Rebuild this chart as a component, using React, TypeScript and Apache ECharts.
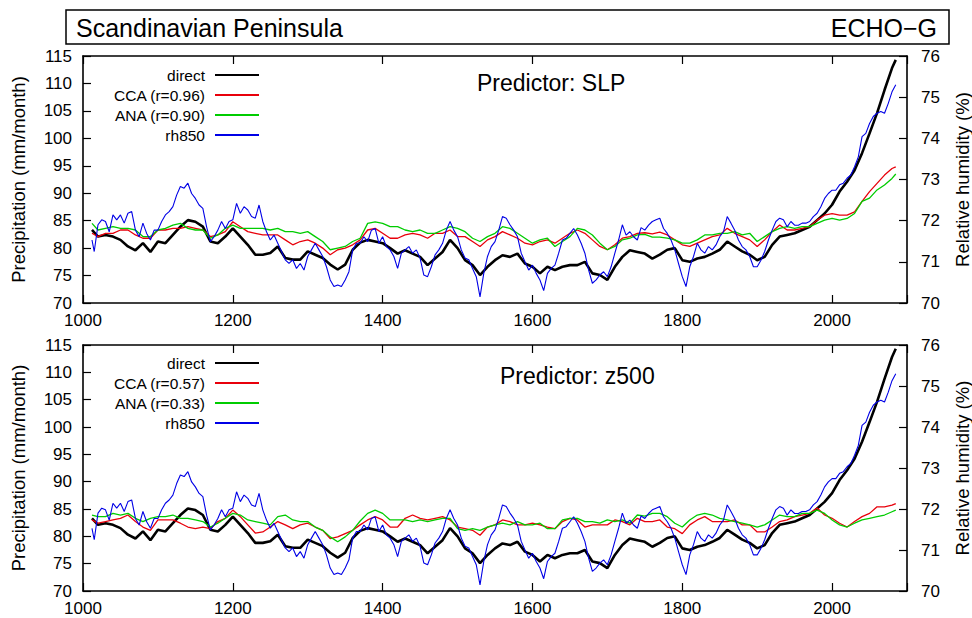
import React, { useEffect, useRef } from "react";
import * as echarts from "echarts";

// Sample years (x positions) for direct / CCA / ANA series
const years = [
  1012, 1020, 1030, 1040, 1050, 1060, 1070, 1080, 1090, 1100,
  1110, 1120, 1130, 1140, 1150, 1160, 1170, 1180, 1190, 1200,
  1210, 1220, 1230, 1240, 1250, 1260, 1270, 1280, 1290, 1300,
  1310, 1320, 1330, 1340, 1350, 1360, 1370, 1380, 1390, 1400,
  1410, 1420, 1430, 1440, 1450, 1460, 1470, 1480, 1490, 1500,
  1510, 1520, 1530, 1540, 1550, 1560, 1570, 1580, 1590, 1600,
  1610, 1620, 1630, 1640, 1650, 1660, 1670, 1680, 1690, 1700,
  1710, 1720, 1730, 1740, 1750, 1760, 1770, 1780, 1790, 1800,
  1810, 1820, 1830, 1840, 1850, 1860, 1870, 1880, 1890, 1900,
  1910, 1920, 1930, 1940, 1950, 1960, 1970, 1980, 1990, 2000,
  2010, 2020, 2030, 2040, 2050, 2060, 2070, 2080, 2085,
];

// Precipitation (mm/month), direct model output (same in both panels)
const direct = [
  83.3, 82.1, 82.4, 82.1, 81.5, 80.3, 79.6, 80.9, 79.3, 81.2,
  80.9, 82.4, 83.9, 85.1, 84.8, 83.9, 81.2, 80.9, 82.1, 83.6,
  82.1, 80.6, 78.8, 78.8, 79.1, 80.3, 78.2, 77.9, 77.9, 79.4,
  78.8, 78.2, 77.0, 76.1, 77.0, 79.7, 81.0, 81.5, 81.2, 80.9,
  80.0, 79.0, 79.6, 79.0, 78.4, 76.9, 78.1, 79.3, 81.5, 80.0,
  77.8, 76.9, 75.1, 76.6, 77.8, 78.7, 78.4, 79.0, 77.2, 76.6,
  75.4, 76.6, 76.0, 76.6, 76.9, 76.9, 77.5, 75.4, 75.1, 74.2,
  76.6, 78.4, 79.6, 79.3, 79.0, 78.1, 78.8, 79.7, 80.0, 77.8,
  77.5, 78.1, 78.4, 79.0, 79.7, 81.2, 80.3, 79.4, 78.8, 77.8,
  78.4, 80.6, 82.1, 82.4, 82.7, 83.3, 83.9, 85.1, 86.3, 87.9,
  90.3, 92.1, 94.2, 97.3, 100.9, 104.6, 108.8, 112.8, 114.3,
];

// Predictor: SLP
const ccaSLP = [
  82.7, 82.1, 82.7, 82.7, 83.3, 83.3, 82.4, 81.8, 81.8, 83.3,
  83.3, 83.6, 83.6, 83.9, 83.6, 83.3, 82.1, 82.4, 83.0, 84.8,
  83.9, 83.0, 82.7, 82.4, 82.4, 82.4, 81.5, 80.6, 81.2, 81.5,
  80.9, 80.0, 78.8, 79.7, 80.0, 80.6, 81.5, 83.3, 83.6, 82.7,
  81.8, 81.8, 82.4, 82.7, 82.4, 81.8, 82.7, 82.7, 83.3, 82.1,
  82.1, 81.2, 80.3, 81.5, 82.1, 83.0, 82.4, 81.8, 80.9, 80.6,
  81.2, 81.5, 80.9, 81.8, 82.7, 83.3, 82.7, 81.5, 80.3, 79.7,
  80.6, 81.8, 82.1, 82.7, 82.8, 82.6, 82.9, 82.4, 81.5, 80.6,
  80.3, 80.9, 81.5, 82.1, 82.4, 83.6, 82.7, 82.1, 81.5, 80.3,
  81.5, 83.0, 84.2, 83.3, 83.3, 83.6, 83.9, 85.1, 86.0, 86.3,
  86.0, 86.0, 86.6, 88.5, 90.3, 91.8, 93.3, 94.5, 94.8,
];
const anaSLP = [
  84.5, 83.3, 83.6, 83.9, 83.6, 83.6, 83.3, 82.1, 82.1, 83.3,
  83.6, 84.2, 84.5, 83.6, 83.3, 83.3, 81.8, 82.4, 83.6, 84.2,
  83.6, 83.6, 83.6, 83.6, 83.3, 83.6, 83.0, 83.0, 82.7, 83.0,
  82.1, 81.2, 79.7, 80.0, 80.3, 81.2, 81.8, 84.5, 84.8, 84.5,
  83.9, 83.9, 83.3, 83.0, 83.3, 82.7, 82.7, 83.3, 83.9, 83.6,
  83.0, 81.8, 81.2, 82.1, 82.7, 83.9, 83.6, 82.7, 81.8, 80.9,
  81.5, 81.8, 80.3, 81.2, 82.1, 83.6, 83.3, 82.4, 80.9, 79.7,
  80.3, 81.5, 81.8, 82.4, 82.5, 82.0, 82.0, 81.8, 81.5, 80.9,
  80.9, 81.5, 82.4, 82.4, 82.7, 82.7, 83.0, 82.4, 82.7, 81.2,
  82.1, 83.0, 83.6, 83.9, 83.6, 83.9, 83.9, 84.5, 85.1, 85.4,
  85.1, 85.4, 86.3, 88.5, 89.1, 90.6, 91.5, 92.7, 93.5,
];

// Predictor: z500
const ccaZ500 = [
  83.0, 82.4, 82.7, 83.0, 83.3, 83.9, 82.7, 81.7, 81.1, 83.0,
  83.0, 83.0, 82.4, 81.7, 81.4, 81.7, 81.4, 82.7, 83.3, 84.8,
  83.6, 82.1, 80.6, 80.8, 81.7, 82.7, 82.1, 81.4, 82.1, 82.4,
  81.7, 81.1, 79.6, 79.9, 80.5, 81.1, 82.1, 83.0, 83.6, 83.0,
  81.7, 81.7, 83.3, 83.9, 83.3, 83.0, 83.3, 83.6, 83.0, 81.7,
  81.4, 81.1, 80.2, 81.7, 82.1, 83.0, 82.7, 82.1, 82.1, 82.4,
  82.1, 81.7, 81.4, 82.7, 83.3, 83.0, 81.7, 82.1, 82.1, 82.1,
  83.0, 82.7, 82.1, 83.3, 82.7, 82.7, 83.0, 81.7, 81.4, 80.5,
  82.1, 83.0, 83.6, 82.7, 82.7, 82.7, 83.0, 82.1, 82.1, 80.8,
  80.8, 81.7, 82.7, 83.0, 83.6, 83.9, 84.2, 85.2, 83.9, 83.3,
  82.4, 81.7, 82.7, 83.6, 84.2, 85.4, 85.4, 85.7, 86.0,
];
const anaZ500 = [
  83.9, 83.6, 83.6, 84.2, 83.9, 84.2, 83.3, 82.7, 83.3, 83.6,
  83.6, 83.9, 83.3, 83.3, 83.0, 82.7, 81.7, 82.4, 83.3, 84.2,
  83.9, 83.0, 82.7, 82.4, 82.1, 83.6, 83.9, 83.0, 82.7, 82.7,
  81.7, 81.1, 79.9, 79.0, 79.9, 81.1, 82.8, 84.2, 84.8, 84.2,
  83.0, 83.0, 83.0, 82.7, 83.0, 82.7, 83.0, 83.3, 83.3, 81.4,
  81.1, 81.4, 81.1, 81.7, 82.1, 82.4, 82.1, 82.7, 82.1, 82.1,
  82.4, 81.4, 81.4, 83.0, 83.3, 83.3, 82.7, 82.7, 82.4, 83.0,
  82.7, 83.0, 82.4, 83.9, 83.7, 84.2, 84.2, 83.6, 82.4, 81.7,
  83.0, 83.9, 84.2, 83.9, 83.3, 83.0, 82.7, 82.4, 82.1, 81.7,
  82.1, 83.0, 83.9, 83.6, 83.6, 84.2, 84.2, 84.8, 84.2, 83.0,
  82.1, 81.7, 82.4, 83.0, 83.3, 83.6, 83.9, 84.5, 84.8,
];

// Relative humidity at 850 hPa (%), right axis
const rhYears = [
  1012, 1015, 1020, 1025, 1030, 1035, 1040, 1045,
  1050, 1055, 1060, 1065, 1070, 1075, 1080, 1085, 1090, 1095,
  1100, 1105, 1110, 1115, 1120, 1125, 1130, 1135, 1140, 1145,
  1150, 1155, 1160, 1165, 1170, 1175, 1180, 1185, 1190, 1195,
  1200, 1205, 1210, 1215, 1220, 1225, 1230, 1235, 1240, 1245,
  1250, 1255, 1260, 1265, 1270, 1275, 1280, 1285, 1290, 1295,
  1300, 1305, 1310, 1315, 1320, 1325, 1330, 1335, 1340, 1345,
  1350, 1355, 1360, 1365, 1370, 1375, 1380, 1385, 1390, 1395,
  1400, 1405, 1410, 1415, 1420, 1425, 1430, 1435, 1440, 1445,
  1450, 1455, 1460, 1465, 1470, 1475, 1480, 1485, 1490, 1495,
  1500, 1505, 1510, 1515, 1520, 1525, 1530, 1535, 1540, 1545,
  1550, 1555, 1560, 1565, 1570, 1575, 1580, 1585, 1590, 1595,
  1600, 1605, 1610, 1615, 1620, 1625, 1630, 1635, 1640, 1645,
  1650, 1655, 1660, 1665, 1670, 1675, 1680, 1685, 1690, 1695,
  1700, 1705, 1710, 1715, 1720, 1725, 1730, 1735, 1740, 1745,
  1750, 1755, 1760, 1765, 1770, 1775, 1780, 1785, 1790, 1795,
  1800, 1805, 1810, 1815, 1820, 1825, 1830, 1835, 1840, 1845,
  1850, 1855, 1860, 1865, 1870, 1875, 1880, 1885, 1890, 1895,
  1900, 1905, 1910, 1915, 1920, 1925, 1930, 1935, 1940, 1945,
  1950, 1955, 1960, 1965, 1970, 1975, 1980, 1985, 1990, 1995,
  2000, 2005, 2010, 2015, 2020, 2025, 2030, 2035, 2040, 2045,
  2050, 2055, 2060, 2065, 2070, 2075, 2080, 2085,
];
const rh850 = [
  71.53, 71.25, 71.90, 72.02, 71.98, 71.73, 72.14, 72.02,
  72.14, 71.94, 72.18, 72.22, 71.77, 71.61, 71.94, 71.69, 71.53, 71.77,
  71.77, 71.98, 72.14, 72.22, 72.34, 72.62, 72.83, 72.79, 72.91, 72.66,
  72.54, 72.38, 72.30, 71.85, 71.49, 71.61, 71.77, 71.98, 71.81, 71.98,
  72.02, 72.42, 72.18, 72.34, 72.26, 72.10, 72.06, 72.38, 71.98, 71.73,
  71.53, 71.65, 71.45, 71.25, 71.05, 70.96, 71.05, 70.84, 70.96, 70.80,
  71.13, 71.29, 71.45, 71.29, 71.13, 70.88, 70.56, 70.40, 70.44, 70.40,
  70.56, 70.76, 71.29, 71.45, 71.45, 71.61, 71.49, 71.77, 71.81, 71.45,
  71.61, 71.37, 71.29, 71.13, 70.84, 71.21, 71.29, 71.37, 71.21, 71.29,
  71.09, 70.68, 70.64, 70.88, 71.17, 71.29, 71.45, 71.77, 71.98, 71.77,
  71.61, 71.29, 71.09, 71.05, 70.84, 70.64, 70.15, 70.72, 71.13, 71.37,
  71.49, 71.77, 72.10, 72.06, 71.90, 71.77, 71.61, 71.21, 71.00, 70.80,
  70.92, 70.72, 70.56, 70.30, 70.72, 70.84, 70.92, 71.21, 71.53, 71.57,
  71.69, 71.81, 71.65, 71.45, 71.21, 70.80, 70.48, 70.56, 70.68, 70.76,
  70.64, 70.88, 71.21, 71.53, 71.90, 71.65, 71.73, 71.61, 71.53, 71.83,
  71.77, 71.89, 71.98, 72.02, 72.06, 71.81, 71.69, 71.53, 71.29, 70.96,
  70.64, 70.40, 70.88, 71.13, 71.45, 71.29, 71.21, 71.37, 71.29, 71.41,
  71.61, 71.73, 72.10, 71.94, 71.77, 71.53, 71.37, 71.29, 71.13, 70.88,
  70.88, 71.04, 71.25, 71.53, 71.77, 71.98, 72.06, 72.02, 71.85, 71.98,
  71.89, 71.89, 71.94, 71.94, 71.98, 72.10, 72.18, 72.34, 72.54, 72.66,
  72.74, 72.74, 72.87, 72.91, 73.03, 73.11, 73.31, 73.55, 74.04, 74.12,
  74.36, 74.53, 74.61, 74.65, 74.61, 74.85, 75.13, 75.30,
];

const legendSLP = ["direct", "CCA (r=0.96)", "ANA (r=0.90)", "rh850"];
const legendZ500 = ["direct", "CCA (r=0.57)", "ANA (r=0.33)", "rh850"];
const panelTitles = ["Predictor: SLP", "Predictor: z500"];

const COLORS = { direct: "#000000", cca: "#e8000b", ana: "#00cc00", rh: "#0000e6" };
const SANS = "'Liberation Sans', Arial, Helvetica, sans-serif";
const NARROW = "'Liberation Sans Narrow', 'Arial Narrow', 'Liberation Sans', sans-serif";

function pairs(xs: number[], ys: number[]) {
  return xs.map((x, i) => [x, ys[i]]);
}

export default function App() {
  const ref = useRef<HTMLDivElement>(null);
  useEffect(() => {
    const chart = echarts.init(ref.current!, null, { renderer: "svg" });

    const grids = [
      { left: 83, top: 56, width: 824, height: 247 },
      { left: 83, top: 345, width: 824, height: 246 },
    ];
    const axisLine = { show: true, onZero: false, lineStyle: { color: "#000", width: 1.6 } };
    const tick = (len: number) => ({ show: true, inside: true, length: len, lineStyle: { color: "#000", width: 1.2 } });
    const labelStyle = { color: "#000", fontFamily: NARROW, fontSize: 17 };

    const xAxes: any[] = [];
    const yAxes: any[] = [];
    grids.forEach((_, g) => {
      xAxes.push({
        type: "value", gridIndex: g, min: 1000, max: 2100, interval: 200, position: "bottom",
        axisLine, axisTick: tick(8), splitLine: { show: false },
        axisLabel: { ...labelStyle, margin: 9, formatter: (v: number) => (v % 200 === 0 ? String(v) : "") },
      });
      xAxes.push({
        type: "value", gridIndex: g, min: 1000, max: 2100, interval: 200, position: "top",
        axisLine, axisTick: tick(8), splitLine: { show: false }, axisLabel: { show: false },
      });
      yAxes.push({
        type: "value", gridIndex: g, min: 70, max: 115, interval: 5, position: "left",
        axisLine, axisTick: tick(8), splitLine: { show: false },
        axisLabel: { ...labelStyle, margin: 11 },
      });
      yAxes.push({
        type: "value", gridIndex: g, min: 70, max: 76, interval: 1, position: "right",
        axisLine, axisTick: tick(8), splitLine: { show: false },
        axisLabel: { ...labelStyle, margin: 14 },
      });
    });

    const line = (name: string, xs: number[], ys: number[], g: number, right: boolean, color: string, width: number) => ({
      type: "line", name, data: pairs(xs, ys), xAxisIndex: g * 2, yAxisIndex: g * 2 + (right ? 1 : 0),
      symbol: "none", showSymbol: false, silent: true,
      lineStyle: { color, width }, itemStyle: { color },
    });

    const series = [
      line(legendSLP[0], years, direct, 0, false, COLORS.direct, 2.6),
      line(legendSLP[1], years, ccaSLP, 0, false, COLORS.cca, 1.3),
      line(legendSLP[2], years, anaSLP, 0, false, COLORS.ana, 1.3),
      line(legendSLP[3], rhYears, rh850, 0, true, COLORS.rh, 1.1),
      line(legendZ500[0], years, direct, 1, false, COLORS.direct, 2.6),
      line(legendZ500[1], years, ccaZ500, 1, false, COLORS.cca, 1.3),
      line(legendZ500[2], years, anaZ500, 1, false, COLORS.ana, 1.3),
      line(legendZ500[3], rhYears, rh850, 1, true, COLORS.rh, 1.1),
    ];

    const legendBase = {
      orient: "vertical", right: 712, align: "right", itemWidth: 44, itemHeight: 12, itemGap: 4,
      padding: 0, selectedMode: false,
      itemStyle: { opacity: 0, borderWidth: 0 },
      textStyle: { fontFamily: SANS, fontSize: 15.5, color: "#000", lineHeight: 15, padding: [0, 5, 0, 0] },
    };

    const txt = (x: number, y: number, text: string, size: number, align: string, rotation = 0) => ({
      type: "text", x, y, rotation, silent: true,
      style: { text, fontFamily: SANS, fontSize: size, fill: "#000", textAlign: align, textVerticalAlign: "middle" },
    });

    chart.setOption({
      animation: false,
      backgroundColor: "#fff",
      grid: grids,
      xAxis: xAxes,
      yAxis: yAxes,
      series,
      legend: [
        { ...legendBase, top: 67, data: legendSLP },
        { ...legendBase, top: 355, data: legendZ500 },
      ],
      graphic: [
        { type: "rect", shape: { x: 66, y: 10, width: 883, height: 34 }, style: { fill: "none", stroke: "#000", lineWidth: 1.5 }, silent: true },
        txt(76, 28, "Scandinavian Peninsula", 25, "left"),
        txt(937, 28, "ECHO\u2212G", 25, "right"),
        txt(477, 83, panelTitles[0], 23, "left"),
        txt(500, 376, panelTitles[1], 23, "left"),
        txt(18.5, 179.5, "Precipitation (mm/month)", 18.5, "center", Math.PI / 2),
        txt(18.5, 468, "Precipitation (mm/month)", 18.5, "center", Math.PI / 2),
        txt(962, 179.5, "Relative humidity (%)", 18.5, "center", Math.PI / 2),
        txt(962, 468, "Relative humidity (%)", 18.5, "center", Math.PI / 2),
      ],
    });
    return () => chart.dispose();
  }, []);
  return <div ref={ref} style={{ position: "absolute", left: 0, top: 0, width: 972, height: 618 }} />;
}
